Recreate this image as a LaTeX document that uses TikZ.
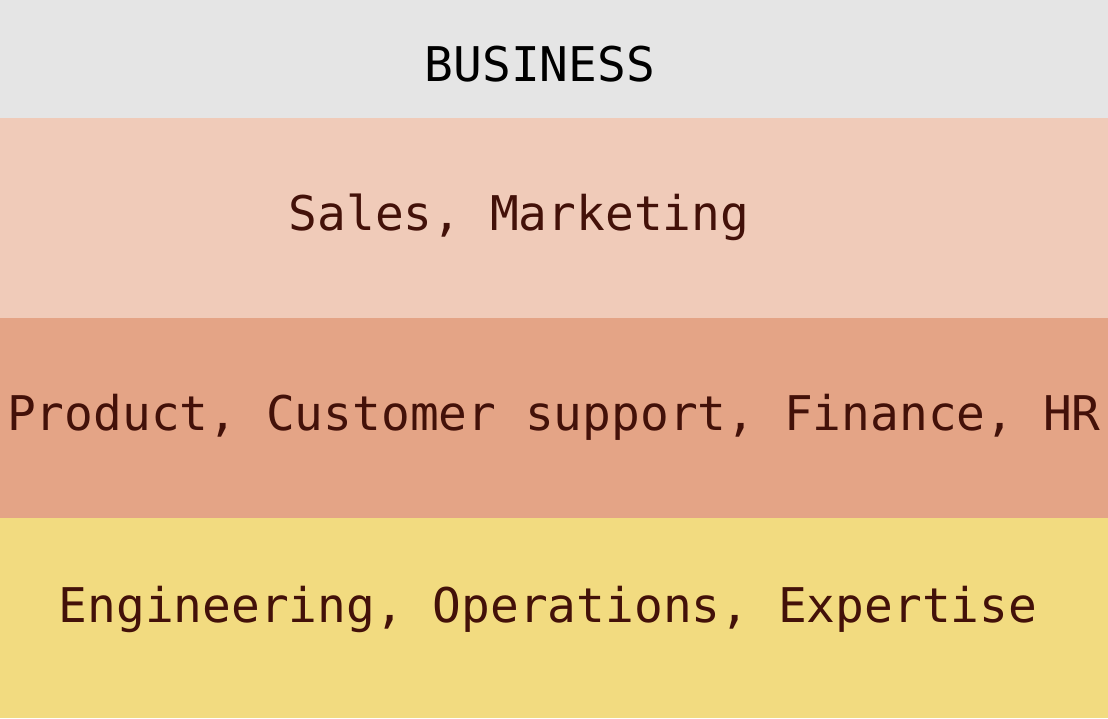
\documentclass[tikz,border=0pt]{standalone}
\usepackage{fontspec}
\setmonofont{DejaVu Sans Mono}
\definecolor{bizgray}{HTML}{E5E5E5}
\definecolor{salescol}{HTML}{F0CBB9}
\definecolor{productcol}{HTML}{E4A486}
\definecolor{engcol}{HTML}{F2DB80}
\definecolor{labelbrown}{HTML}{431109}
\tikzset{
  layer/.style = {font = \ttfamily\fontsize{47.8}{50}\selectfont, text = labelbrown, inner sep = 0pt}
}
\begin{document}
\begin{tikzpicture}[x = 1pt, y = -1pt]
\pgfmathsetmacro\w{1108};
\useasboundingbox (0,0) rectangle (\w,718);
\fill [bizgray] (0,0) rectangle (\w,118);
\fill [salescol] (0,118) rectangle (\w,318);
\fill [productcol] (0,318) rectangle (\w,518);
\fill [engcol] (0,518) rectangle (\w,718);
\node[layer, text = black] (business) at (540,64) {BUSINESS};
\node[layer] (sales) at (519,217) {Sales, Marketing};
\node[layer] (product) at (554,417) {Product, Customer support, Finance, HR};
\node[layer] (engineering) at (548,609) {Engineering, Operations, Expertise};
\end{tikzpicture}
\end{document}
